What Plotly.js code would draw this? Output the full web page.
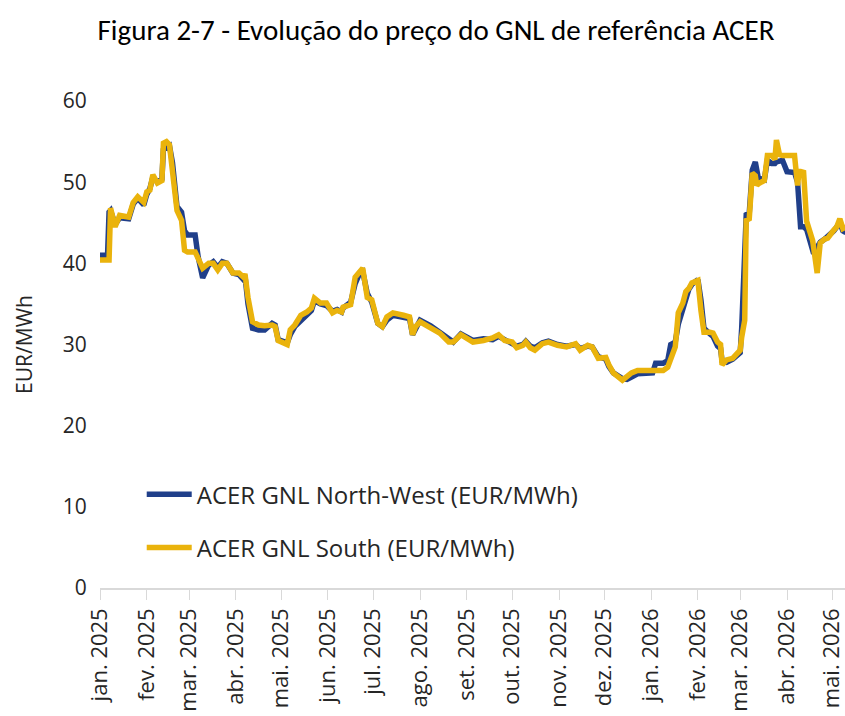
<!DOCTYPE html>
<html>
<head>
<meta charset="utf-8">
<script src="https://cdn.plot.ly/plotly-3.0.1.min.js"></script>
<style>html,body{margin:0;padding:0;background:#fff;}#chart{width:845px;height:716px;}</style>
</head>
<body>
<div id="chart"></div>
<script>
const dates = [
"2025-01-01","2025-01-06","2025-01-07","2025-01-08","2025-01-11","2025-01-14","2025-01-20","2025-01-23","2025-01-26","2025-01-30",
"2025-02-01","2025-02-03","2025-02-05","2025-02-08","2025-02-11","2025-02-12","2025-02-14","2025-02-16","2025-02-18","2025-02-21",
"2025-02-24","2025-02-26","2025-02-28","2025-03-05","2025-03-07","2025-03-10","2025-03-14","2025-03-17","2025-03-20","2025-03-23",
"2025-03-26","2025-03-30","2025-04-03","2025-04-06","2025-04-07","2025-04-09","2025-04-12","2025-04-16","2025-04-20","2025-04-25",
"2025-04-27","2025-04-29","2025-05-05","2025-05-07","2025-05-10","2025-05-14","2025-05-18","2025-05-21","2025-05-23","2025-05-27",
"2025-05-31","2025-06-04","2025-06-07","2025-06-10","2025-06-11","2025-06-16","2025-06-19","2025-06-22","2025-06-24","2025-06-27",
"2025-06-30","2025-07-04","2025-07-07","2025-07-10","2025-07-14","2025-07-21","2025-07-25","2025-07-27","2025-07-29","2025-08-01",
"2025-08-08","2025-08-14","2025-08-20","2025-08-23","2025-08-28","2025-09-01","2025-09-05","2025-09-12","2025-09-18","2025-09-22",
"2025-09-26","2025-10-01","2025-10-04","2025-10-08","2025-10-10","2025-10-13","2025-10-16","2025-10-21","2025-10-25","2025-10-31",
"2025-11-06","2025-11-12","2025-11-15","2025-11-20","2025-11-23","2025-11-27","2025-12-02","2025-12-04","2025-12-07","2025-12-13",
"2025-12-16","2025-12-19","2025-12-23","2026-01-02","2026-01-04","2026-01-09","2026-01-12","2026-01-14","2026-01-17","2026-01-19",
"2026-01-22","2026-01-24","2026-01-26","2026-01-28","2026-02-01","2026-02-03","2026-02-05","2026-02-09","2026-02-11","2026-02-14",
"2026-02-16","2026-02-17","2026-02-20","2026-02-24","2026-02-27","2026-03-01","2026-03-02","2026-03-04","2026-03-05","2026-03-07",
"2026-03-09","2026-03-11","2026-03-12","2026-03-13","2026-03-17","2026-03-19","2026-03-22","2026-03-24","2026-03-25","2026-03-27",
"2026-03-29","2026-04-01","2026-04-06","2026-04-08","2026-04-09","2026-04-10","2026-04-12","2026-04-14","2026-04-16","2026-04-18",
"2026-04-21","2026-04-23","2026-04-26","2026-04-28","2026-05-02","2026-05-04","2026-05-06","2026-05-08","2026-05-10"
];
const northWest = [
41.0,41.0,46.3,46.5,44.8,45.6,45.5,47.3,48.0,47.2,
48.5,49.2,50.6,50.0,50.4,54.0,54.3,54.5,52.4,47.0,
46.3,44.0,43.5,43.5,40.8,38.2,39.8,40.2,39.5,40.2,
40.0,38.8,38.6,38.0,38.5,35.0,32.0,31.8,31.8,32.6,
32.4,30.6,30.2,31.2,32.2,33.0,33.6,34.2,35.4,35.0,
34.8,34.1,34.3,34.0,34.5,35.2,37.5,38.8,39.0,36.3,
35.2,32.6,32.2,33.0,33.6,33.4,33.2,31.2,31.8,33.0,
32.3,31.5,30.5,30.3,31.3,30.8,30.5,30.7,30.6,31.0,
30.6,30.0,29.8,30.0,30.4,29.8,29.6,30.2,30.4,30.0,
29.8,30.0,29.5,29.8,29.7,28.5,28.2,27.3,26.5,25.8,
25.7,26.0,26.4,26.5,27.7,27.7,28.0,30.0,30.3,32.5,
34.5,35.8,36.8,37.4,38.0,35.5,32.0,31.3,31.0,29.8,
29.5,28.0,27.8,28.2,28.6,29.0,32.0,44.0,46.0,46.2,
51.5,52.5,51.5,50.5,50.3,52.7,52.3,52.3,52.5,52.6,
52.7,51.3,51.2,50.0,46.0,44.5,44.5,44.2,42.9,41.6,
42.0,42.6,43.0,43.3,44.0,44.5,45.0,44.0,43.8
];
const south = [
40.4,40.4,40.4,46.8,44.5,45.9,45.7,47.5,48.2,47.5,
48.8,49.0,50.9,49.9,50.2,54.8,55.0,54.6,51.8,46.5,
45.3,41.6,41.4,41.4,40.6,39.4,40.0,40.0,39.2,40.0,
40.0,38.8,38.8,38.3,38.7,35.8,32.8,32.4,32.3,32.4,
32.2,30.5,30.0,31.8,32.4,33.6,34.0,34.5,35.7,35.1,
35.1,33.9,34.2,34.0,34.6,34.9,38.3,38.9,39.4,35.8,
35.5,32.6,32.2,33.4,33.9,33.6,33.4,31.2,32.2,32.8,
32.1,31.4,30.3,30.3,31.2,30.8,30.3,30.5,30.8,31.2,
30.5,30.3,29.6,29.9,30.3,29.6,29.3,30.1,30.3,29.9,
29.7,30.1,29.3,29.9,29.7,28.3,28.4,27.5,26.5,25.6,
26.0,26.5,26.8,26.8,26.8,26.8,27.2,28.4,29.7,33.9,
35.1,36.5,36.9,37.6,37.9,34.2,31.5,31.5,31.4,30.3,
30.0,27.5,28.1,28.3,28.8,29.3,30.9,33.0,45.3,45.5,
51.1,50.8,49.6,49.8,50.2,53.3,53.3,52.8,55.2,53.4,
53.3,53.3,53.3,49.6,51.3,51.3,51.2,45.2,43.9,42.8,
38.8,42.5,43.0,43.1,44.1,44.5,45.5,44.3,44.5
];
const tickDates = ["2025-01-01","2025-02-01","2025-03-01","2025-04-01","2025-05-01","2025-06-01","2025-07-01","2025-08-01","2025-09-01","2025-10-01","2025-11-01","2025-12-01","2026-01-01","2026-02-01","2026-03-01","2026-04-01","2026-05-01"];
const tickLabels = ["jan. 2025","fev. 2025","mar. 2025","abr. 2025","mai. 2025","jun. 2025","jul. 2025","ago. 2025","set. 2025","out. 2025","nov. 2025","dez. 2025","jan. 2026","fev. 2026","mar. 2026","abr. 2026","mai. 2026"];
const seriesNames = ["ACER GNL North-West (EUR/MWh)","ACER GNL South (EUR/MWh)"];

const font = "Open Sans, Noto Sans, sans-serif";
const traces = [
  {x: dates, y: northWest, name: seriesNames[0], type: "scatter", mode: "lines",
   line: {color: "#203F8A", width: 5.5, shape: "linear"}, legendgroup: "a"},
  {x: dates, y: south, name: seriesNames[1], type: "scatter", mode: "lines",
   line: {color: "#EAB30C", width: 5.5, shape: "linear"}, legendgroup: "b"}
];
const layout = {
  width: 845, height: 716,
  margin: {l: 100, r: 0, t: 101, b: 128},
  paper_bgcolor: "#fff", plot_bgcolor: "#fff",
  title: {text: "Figura 2-7 - Evolução do preço do GNL de referência ACER",
          font: {family: "Carlito, Calibri, Liberation Sans, sans-serif", size: 29, color: "#000"},
          x: 0.516, xanchor: "center", y: 0.958, yanchor: "middle"},
  xaxis: {type: "date", range: ["2025-01-01", "2026-05-09 10:00"],
          tickmode: "array", tickvals: tickDates, ticktext: tickLabels,
          tickangle: -90, ticks: "outside", ticklen: 10, tickcolor: "#d9d9d9",
          ticklabeloverflow: "allow",
          showline: true, linecolor: "#d9d9d9", linewidth: 1.5, showgrid: false, zeroline: false,
          tickfont: {family: font, size: 22, color: "#262626"}},
  yaxis: {range: [0, 60], tickvals: [0,10,20,30,40,50,60], showgrid: false, zeroline: false,
          showline: false, ticks: "outside", ticklen: 8, tickcolor: "rgba(0,0,0,0)",
          tickfont: {family: font, size: 21, color: "#262626"},
          title: {text: "EUR/MWh", font: {family: font, size: 21, color: "#262626"}, standoff: 24}},
  showlegend: true,
  legend: {x: 0.056, y: 0.238, xanchor: "left", yanchor: "top", bgcolor: "rgba(0,0,0,0)",
           font: {family: font, size: 24, color: "#262626"}, tracegroupgap: 19, traceorder: "grouped",
           itemwidth: 45}
};
Plotly.newPlot("chart", traces, layout, {displayModeBar: false, staticPlot: true});
</script>
</body>
</html>
